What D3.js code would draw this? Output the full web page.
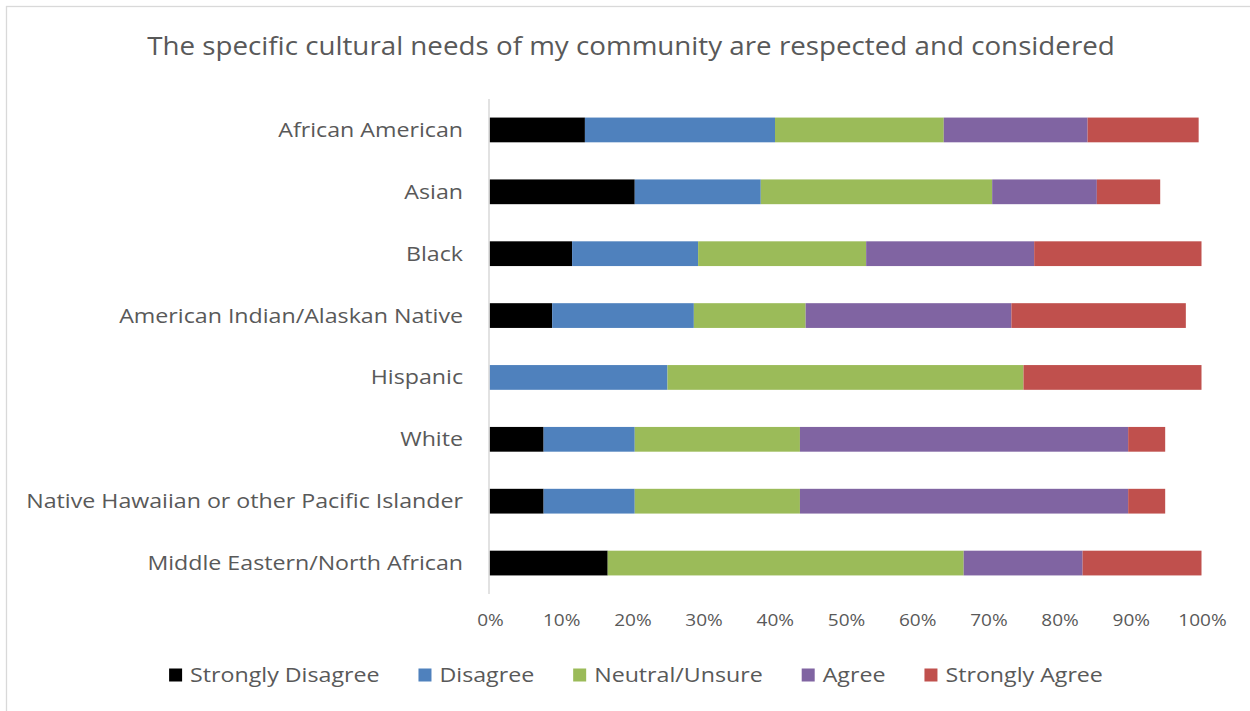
<!DOCTYPE html>
<html>
<head>
<meta charset="utf-8">
<script src="https://cdn.jsdelivr.net/npm/d3@7/dist/d3.min.js"></script>
<style>
  html, body { margin: 0; padding: 0; background: #fff; }
  svg { display: block; font-family: "Open Sans", "Noto Sans", sans-serif; }
</style>
</head>
<body>
<svg id="chart" width="1250" height="711"></svg>
<script>
// Survey responses (percent of respondents) per community
const categories = [
  "African American",
  "Asian",
  "Black",
  "American Indian/Alaskan Native",
  "Hispanic",
  "White",
  "Native Hawaiian or other Pacific Islander",
  "Middle Eastern/North African"
];
const seriesNames = ["Strongly Disagree", "Disagree", "Neutral/Unsure", "Agree", "Strongly Agree"];
const stronglyDisagree = [13.4, 20.4, 11.6, 8.8, 0, 7.6, 7.6, 16.6];
const disagree         = [26.7, 17.7, 17.7, 19.9, 25, 12.8, 12.8, 0];
const neutral          = [23.7, 32.5, 23.6, 15.7, 50, 23.2, 23.2, 50];
const agree            = [20.2, 14.7, 23.6, 28.9, 0, 46.1, 46.1, 16.7];
const stronglyAgree    = [15.6, 8.9, 23.5, 24.5, 25, 5.2, 5.2, 16.7];
const seriesColors = ["#000000", "#4F81BD", "#9BBB59", "#8064A2", "#C0504D"];
const tickValues = [0, 10, 20, 30, 40, 50, 60, 70, 80, 90, 100];
const title = "The specific cultural needs of my community are respected and considered";

const rows = categories.map((c, i) => {
  const r = { category: c };
  r[seriesNames[0]] = stronglyDisagree[i];
  r[seriesNames[1]] = disagree[i];
  r[seriesNames[2]] = neutral[i];
  r[seriesNames[3]] = agree[i];
  r[seriesNames[4]] = stronglyAgree[i];
  return r;
});

const svg = d3.select("#chart");
const textColor = "#595959";
const stretch = 1.16; // text is set slightly wide

svg.append("rect").attr("width", 1250).attr("height", 711).attr("fill", "#fff");
// chart frame
svg.append("rect")
  .attr("x", 6.5).attr("y", 6.5).attr("width", 1260).attr("height", 720)
  .attr("fill", "none").attr("stroke", "#d9d9d9").attr("stroke-width", 1.3);

const x = d3.scaleLinear().domain([0, 100]).range([489.5, 1201.5]);
const y = d3.scaleBand().domain(categories).range([99, 594])
  .paddingInner(0.6).paddingOuter(0.3);

const layers = d3.stack().keys(seriesNames)(rows);

svg.append("g").selectAll("g")
  .data(layers)
  .join("g")
    .attr("fill", (d, i) => seriesColors[i])
  .selectAll("rect")
  .data(d => d)
  .join("rect")
    .attr("x", d => x(d[0]))
    .attr("y", d => y(d.data.category))
    .attr("width", d => Math.max(0, x(d[1]) - x(d[0])))
    .attr("height", y.bandwidth());

// vertical category axis line
svg.append("line")
  .attr("x1", x(0) - 0.5).attr("x2", x(0) - 0.5)
  .attr("y1", 99).attr("y2", 594)
  .attr("stroke", "#d9d9d9").attr("stroke-width", 1.5);

// category labels
svg.append("g").selectAll("text")
  .data(categories)
  .join("text")
    .attr("transform", d => `translate(463,${y(d) + y.bandwidth() / 2}) scale(${stretch},1)`)
    .attr("dy", "0.35em")
    .attr("text-anchor", "end")
    .attr("font-size", 20)
    .attr("fill", textColor)
    .text(d => d);

// percentage axis
const xAxis = d3.axisBottom(x).tickValues(tickValues).tickFormat(d => d + "%").tickSize(0);
const gx = svg.append("g").attr("transform", "translate(0,611)").call(xAxis);
gx.select(".domain").remove();
gx.selectAll(".tick").attr("transform", d => `translate(${x(d) + 1},0)`);
gx.selectAll("text")
  .attr("font-family", "\"Open Sans\", sans-serif")
  .attr("font-size", 17)
  .attr("fill", textColor)
  .attr("transform", "scale(1.12,1)");

// title
svg.append("text")
  .attr("transform", "translate(631,55) scale(1.11,1)")
  .attr("text-anchor", "middle")
  .attr("font-size", 25)
  .attr("fill", textColor)
  .text(title);

// legend
const legend = svg.append("g");
const sw = 13, gapText = 8, gapItem = 39;
let cursor = 0;
seriesNames.forEach((name, i) => {
  const g = legend.append("g").attr("transform", `translate(${cursor},0)`);
  g.append("rect").attr("x", 0).attr("y", -sw / 2).attr("width", sw).attr("height", sw)
    .attr("fill", seriesColors[i]);
  const t = g.append("text")
    .attr("transform", `translate(${sw + gapText},0) scale(${stretch},1)`)
    .attr("dy", "0.35em")
    .attr("font-size", 20).attr("fill", textColor).text(name);
  cursor += sw + gapText + t.node().getComputedTextLength() * stretch + gapItem;
});
const legendWidth = cursor - gapItem;
legend.attr("transform", `translate(${636 - legendWidth / 2},675)`);
</script>
</body>
</html>
